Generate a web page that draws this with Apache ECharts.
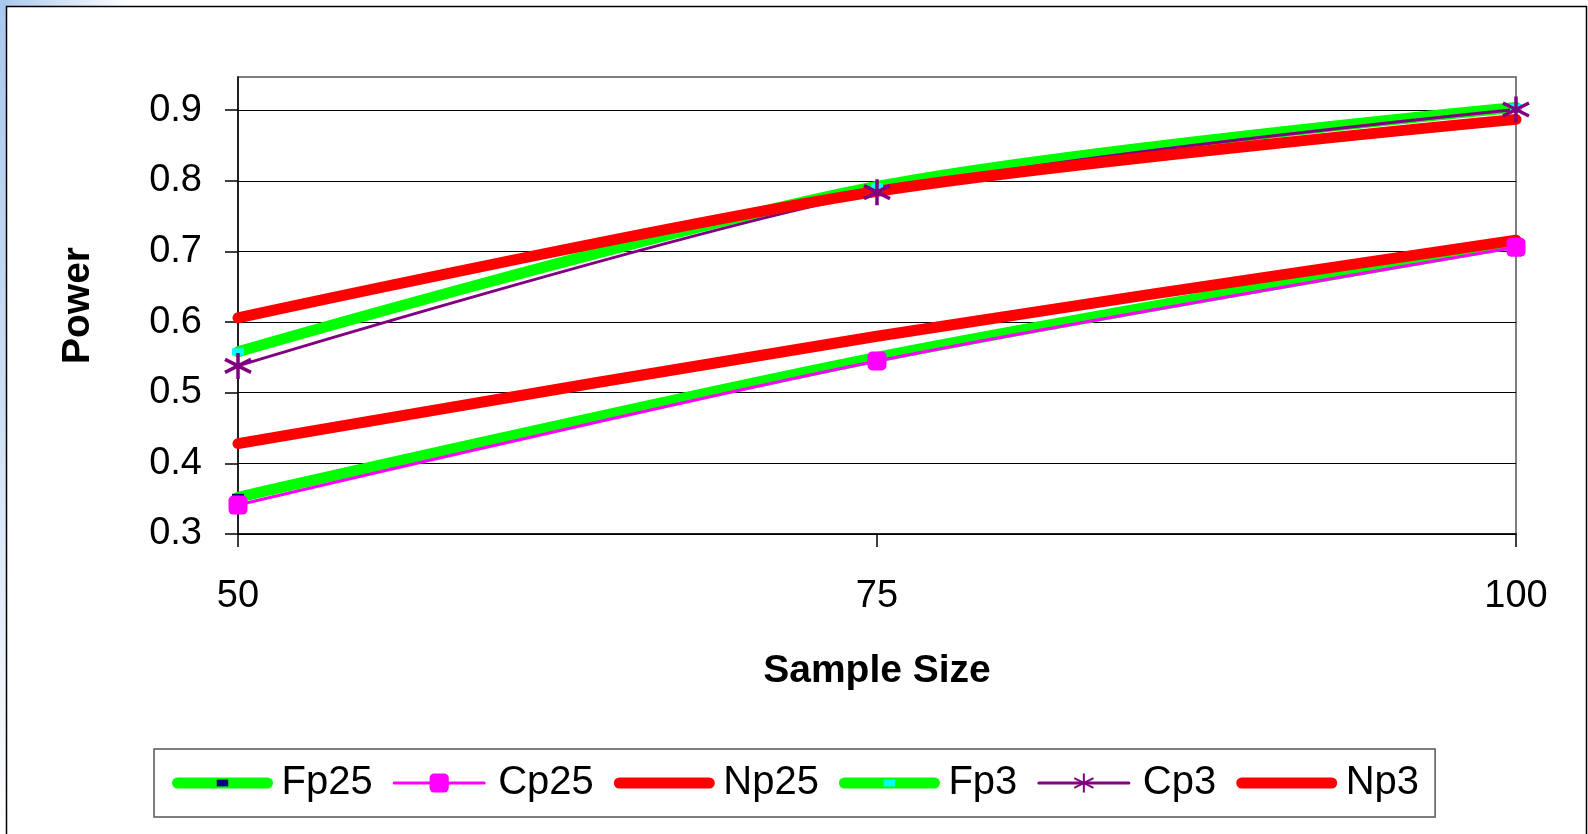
<!DOCTYPE html>
<html>
<head>
<meta charset="utf-8">
<script src="https://cdn.jsdelivr.net/npm/echarts@6/dist/echarts.min.js"></script>
<style>
  html, body { margin: 0; padding: 0; background: #fff; }
  #chart { width: 1588px; height: 834px; }
</style>
</head>
<body>
<div id="chart"></div>
<script>
var sampleSizes = [50, 75, 100];
var yTicks = [0.3, 0.4, 0.5, 0.6, 0.7, 0.8, 0.9];

var fp25 = [0.352, 0.550, 0.712];
var cp25 = [0.341, 0.545, 0.706];
var np25 = [0.428, 0.580, 0.716];
var fp3 = [0.558, 0.792, 0.904];
var cp3 = [0.538, 0.784, 0.901];
var np3 = [0.606, 0.785, 0.887];

var FONT = 'Liberation Sans, Arial, sans-serif';
// small flat marker padded inside a square box so legend and plot keep it small
var flatMark = 'path://M0,0M20,20M4,6.5L16,6.5L16,13.5L4,13.5Z';
var asterisk = 'path://M0,-10L0,10M-8.66,-5L8.66,5M-8.66,5L8.66,-5';

function pairs(vals) {
  return sampleSizes.map(function (x, i) { return [x, vals[i]]; });
}

function thickLine(name, vals, lineColor, markColor) {
  return {
    name: name,
    type: 'line',
    data: pairs(vals),
    smooth: 0.3,
    symbol: flatMark,
    symbolSize: 20,
    symbolKeepAspect: true,
    showSymbol: !!markColor,
    lineStyle: { color: lineColor, width: 11, cap: 'round', join: 'round' },
    itemStyle: { color: markColor || lineColor },
    emphasis: { disabled: true }
  };
}

function legendItem(name, width) {
  return { name: name, lineStyle: { width: width, cap: 'round' } };
}

var chart = echarts.init(document.getElementById('chart'));
chart.setOption({
  backgroundColor: '#fff',
  animation: false,
  graphic: [
    {
      type: 'rect', left: 0, top: 0, silent: true,
      shape: { width: 130, height: 6 },
      style: { fill: new echarts.graphic.LinearGradient(0, 0, 1, 0, [
        { offset: 0, color: '#a8c8ee' }, { offset: 1, color: '#ffffff' }]) }
    },
    {
      type: 'rect', left: 0, top: 0, silent: true,
      shape: { width: 6, height: 834 },
      style: { fill: new echarts.graphic.LinearGradient(0, 0, 0, 1, [
        { offset: 0, color: '#a8c8ee' }, { offset: 0.5, color: '#cfe0f5' }, { offset: 1, color: '#ffffff' }]) }
    },
    {
      type: 'rect', silent: true, x: 6.5, y: 6.5,
      shape: { width: 1580, height: 900 },
      style: { fill: 'none', stroke: '#000', lineWidth: 1.5 }
    }
  ],
  grid: {
    left: 238, top: 77, right: 72, bottom: 300,
    show: true, borderColor: '#555', borderWidth: 1.5, backgroundColor: 'transparent'
  },
  legend: {
    left: 154, top: 749,
    padding: [14, 16, 14, 18],
    itemGap: 20,
    itemWidth: 90,
    itemHeight: 24,
    borderColor: '#555', borderWidth: 1.5,
    textStyle: { fontFamily: FONT, fontSize: 40, color: '#000', padding: [0, 0, 0, 9] },
    data: [
      legendItem('Fp25', 11), legendItem('Cp25', 3), legendItem('Np25', 11),
      legendItem('Fp3', 11), legendItem('Cp3', 3), legendItem('Np3', 11)
    ]
  },
  xAxis: {
    type: 'value', min: 50, max: 100, interval: 25,
    name: 'Sample Size', nameLocation: 'middle', nameGap: 118,
    nameTextStyle: { fontFamily: FONT, fontSize: 39, fontWeight: 'bold', color: '#000' },
    axisLine: { onZero: false, lineStyle: { color: '#000', width: 1.5 } },
    axisTick: { show: true, length: 13, lineStyle: { color: '#000', width: 1.5 } },
    axisLabel: { margin: 44, fontFamily: FONT, fontSize: 38, color: '#000' },
    splitLine: { show: false }
  },
  yAxis: {
    type: 'value', min: 0.3, max: 0.947, interval: 0.1,
    name: 'Power', nameLocation: 'middle', nameRotate: 90, nameGap: 140,
    nameTextStyle: { fontFamily: FONT, fontSize: 39, fontWeight: 'bold', color: '#000' },
    axisLine: { show: true, onZero: false, lineStyle: { color: '#000', width: 1.5 } },
    axisTick: { show: true, length: 13, customValues: yTicks, lineStyle: { color: '#000', width: 1.5 } },
    axisLabel: {
      margin: 36, fontFamily: FONT, fontSize: 38, color: '#000',
      customValues: yTicks,
      formatter: function (v) { return v.toFixed(1); }
    },
    splitLine: { show: true, lineStyle: { color: '#000', width: 1.2 } }
  },
  series: [
    thickLine('Fp25', fp25, '#00ff00', '#000080'),
    {
      name: 'Cp25', type: 'line', data: pairs(cp25), smooth: 0.3,
      symbol: 'roundRect', symbolSize: 19,
      lineStyle: { color: '#ff00ff', width: 3 },
      itemStyle: { color: '#ff00ff' },
      emphasis: { disabled: true }
    },
    thickLine('Np25', np25, '#ff0000', null),
    thickLine('Fp3', fp3, '#00ff00', '#00ffff'),
    {
      name: 'Cp3', type: 'line', data: pairs(cp3), smooth: 0.3,
      symbol: asterisk, symbolSize: 26,
      lineStyle: { color: '#800080', width: 3 },
      itemStyle: { color: 'none', borderColor: '#800080', borderWidth: 3.5 },
      emphasis: { disabled: true }
    },
    thickLine('Np3', np3, '#ff0000', null)
  ]
});
</script>
</body>
</html>
